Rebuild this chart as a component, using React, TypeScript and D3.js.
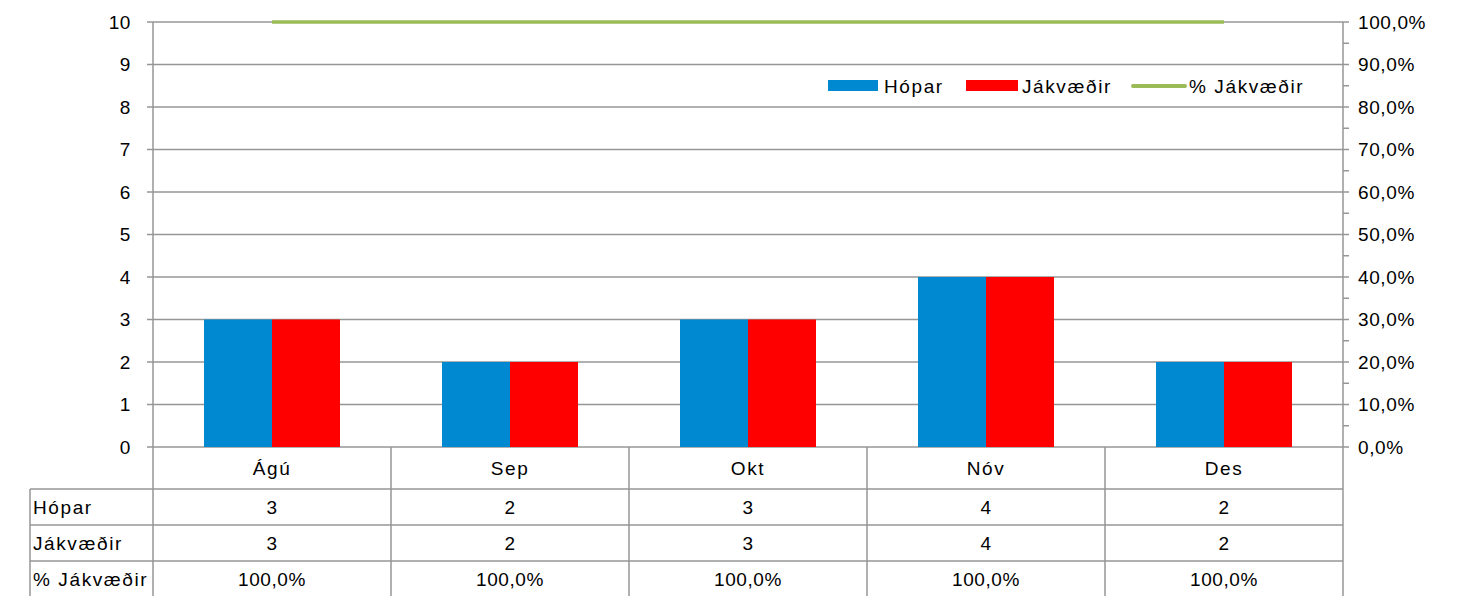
import * as d3 from "d3";

// chart data
const months = ["Ágú", "Sep", "Okt", "Nóv", "Des"];
const hopar = [3, 2, 3, 4, 2];
const jakvaedir = [3, 2, 3, 4, 2];
const seriesNames = ["Hópar", "Jákvæðir"];
const seriesColours = ["#0088d1", "#ff0000"];
const lineColour = "#9bbb59";
const leftTicks = [0, 1, 2, 3, 4, 5, 6, 7, 8, 9, 10];
const rightTicks = [0, 0.1, 0.2, 0.3, 0.4, 0.5, 0.6, 0.7, 0.8, 0.9, 1];
const minorTicks = [0.05, 0.15, 0.25, 0.35, 0.45, 0.55, 0.65, 0.75, 0.85, 0.95];

const W = 1458;
const H = 596;
const plot = { left: 153, right: 1343, top: 22, bottom: 447 };
const tableLeft = 30;
const rowH = 36;
const headerBottom = 489;
const font = "'Liberation Sans', Arial, sans-serif";
const gridCol = "#969696";
const wordSpacing = 1.6; // letter spacing for words
const numSpacing = 0.6; // letter spacing for numbers

const pctFmt = (v: number) => d3.format(".1%")(v).replace(".", ",");

const App = () => {
  const x = d3.scaleBand().domain(months).range([plot.left, plot.right]);
  const xInner = d3.scaleBand().domain(seriesNames).range([0, x.bandwidth()]).paddingOuter(0.75);
  const y = d3.scaleLinear().domain([0, 10]).range([plot.bottom, plot.top]);
  const yPct = d3.scaleLinear().domain([0, 1]).range([plot.bottom, plot.top]);

  const pct = months.map((_, i) => jakvaedir[i] / hopar[i]);
  const line = d3.line<number>()
    .x((_, i) => (x(months[i]) as number) + x.bandwidth() / 2)
    .y((d) => yPct(d));

  const series = [hopar, jakvaedir];
  const rows = [
    { name: "Hópar", vals: hopar.map(String) },
    { name: "Jákvæðir", vals: jakvaedir.map(String) },
    { name: "% Jákvæðir", vals: pct.map(pctFmt) },
  ];
  const boundaries = months.map((m) => x(m) as number).concat([plot.right]);
  const mid = (m: string) => (x(m) as number) + x.bandwidth() / 2;

  return (
    <svg width={W} height={H} style={{ position: "absolute", left: 0, top: 0, background: "#fff" }}
      fontFamily={font} fontSize={19}>
      {/* gridlines */}
      {leftTicks.map((t) => (
        <line key={"g" + t} x1={plot.left - 6} x2={plot.right} y1={y(t)} y2={y(t)} stroke={gridCol} strokeWidth={1.5} />
      ))}
      {/* left axis */}
      <line x1={plot.left} x2={plot.left} y1={plot.top} y2={plot.bottom} stroke={gridCol} strokeWidth={1.5} />
      {leftTicks.map((t) => (
        <text key={"l" + t} x={131} y={y(t)} dy="0.35em" textAnchor="end" letterSpacing={numSpacing}>{t}</text>
      ))}
      {/* right axis */}
      <line x1={plot.right} x2={plot.right} y1={plot.top} y2={plot.bottom} stroke={gridCol} strokeWidth={1.5} />
      {rightTicks.concat(minorTicks).map((t) => (
        <line key={"rt" + t} x1={plot.right} x2={plot.right + 6} y1={yPct(t)} y2={yPct(t)} stroke={gridCol} strokeWidth={1.5} />
      ))}
      {rightTicks.map((t) => (
        <text key={"r" + t} x={plot.right + 15} y={yPct(t)} dy="0.35em" letterSpacing={numSpacing}>{pctFmt(t)}</text>
      ))}
      {/* bars */}
      {series.map((vals, s) =>
        vals.map((v, i) => (
          <rect key={s + "-" + i}
            x={(x(months[i]) as number) + (xInner(seriesNames[s]) as number)}
            y={y(v)} width={xInner.bandwidth()} height={y(0) - y(v)}
            fill={seriesColours[s]} />
        ))
      )}
      {/* % line */}
      <path d={line(pct) || ""} fill="none" stroke={lineColour} strokeWidth={3.5} />
      {/* legend */}
      <g transform="translate(828,86)" letterSpacing={wordSpacing}>
        <rect x={0} y={-6} width={50} height={11} fill={seriesColours[0]} />
        <text x={56} y={0} dy="0.35em">Hópar</text>
        <rect x={138} y={-6} width={52} height={11} fill={seriesColours[1]} />
        <text x={194} y={0} dy="0.35em">Jákvæðir</text>
        <line x1={305} x2={357} y1={0} y2={0} stroke={lineColour} strokeWidth={4} strokeLinecap="round" />
        <text x={361} y={0} dy="0.35em">% Jákvæðir</text>
      </g>
      {/* data table */}
      {boundaries.map((b, i) => (
        <line key={"tv" + i} x1={b} x2={b} y1={plot.bottom} y2={H} stroke={gridCol} strokeWidth={1.5} />
      ))}
      <line x1={tableLeft} x2={tableLeft} y1={headerBottom} y2={H} stroke={gridCol} strokeWidth={1.5} />
      {rows.map((_, r) => (
        <line key={"th" + r} x1={tableLeft} x2={plot.right} y1={headerBottom + r * rowH} y2={headerBottom + r * rowH} stroke={gridCol} strokeWidth={1.5} />
      ))}
      {months.map((m) => (
        <text key={"m" + m} x={mid(m)} y={(plot.bottom + headerBottom) / 2} dy="0.35em" textAnchor="middle" letterSpacing={wordSpacing}>{m}</text>
      ))}
      {rows.map((row, r) => (
        <g key={"row" + r}>
          <text x={tableLeft + 3} y={headerBottom + r * rowH + rowH / 2} dy="0.35em" letterSpacing={wordSpacing}>{row.name}</text>
          {row.vals.map((v, i) => (
            <text key={i} x={mid(months[i])} y={headerBottom + r * rowH + rowH / 2} dy="0.35em" textAnchor="middle" letterSpacing={numSpacing}>{v}</text>
          ))}
        </g>
      ))}
    </svg>
  );
};

export default App;
